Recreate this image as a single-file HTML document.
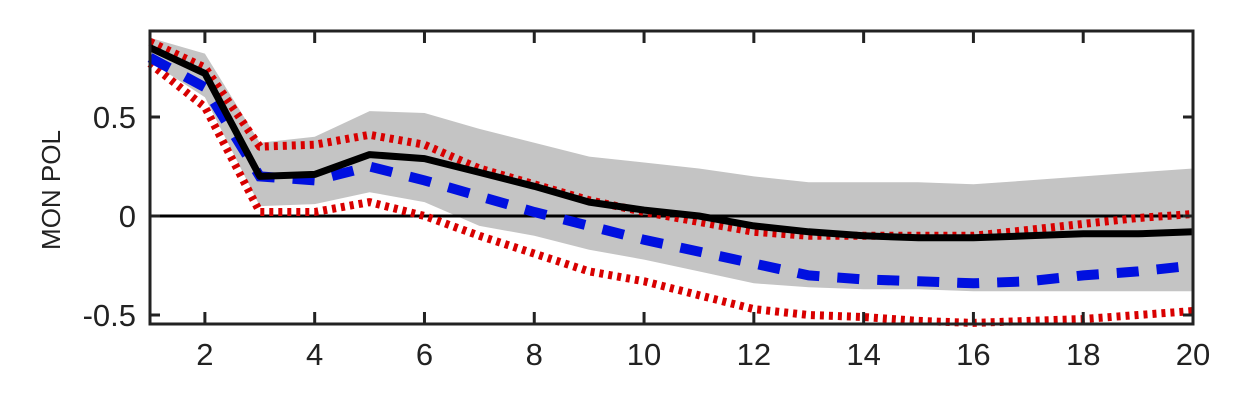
<!DOCTYPE html>
<html><head><meta charset="utf-8"><style>
html,body{margin:0;padding:0;background:#fff;}
svg{display:block;font-family:"Liberation Sans",sans-serif;}
</style></head><body>
<svg id="chart" width="1260" height="403"></svg>
<script>
const periods=[1,2,3,4,5,6,7,8,9,10,11,12,13,14,15,16,17,18,19,20];
const medianVals=[0.85,0.72,0.2,0.21,0.31,0.29,0.22,0.15,0.07,0.03,0.0,-0.05,-0.08,-0.1,-0.11,-0.11,-0.1,-0.09,-0.09,-0.08];
const blueVals=[0.8,0.65,0.2,0.18,0.25,0.18,0.1,0.02,-0.05,-0.12,-0.18,-0.24,-0.3,-0.32,-0.33,-0.34,-0.33,-0.3,-0.28,-0.25];
const redUpper=[0.88,0.75,0.35,0.36,0.41,0.36,0.24,0.16,0.08,0.02,-0.03,-0.08,-0.1,-0.1,-0.1,-0.1,-0.07,-0.04,-0.01,0.01];
const redLower=[0.77,0.55,0.02,0.02,0.07,0.0,-0.1,-0.19,-0.28,-0.33,-0.4,-0.47,-0.5,-0.51,-0.53,-0.54,-0.53,-0.52,-0.5,-0.48];
const bandUpper=[0.9,0.82,0.37,0.4,0.53,0.52,0.44,0.37,0.3,0.27,0.24,0.2,0.17,0.17,0.17,0.16,0.18,0.2,0.22,0.24];
const bandLower=[0.78,0.6,0.05,0.06,0.12,0.07,-0.05,-0.1,-0.17,-0.22,-0.28,-0.34,-0.36,-0.37,-0.37,-0.38,-0.38,-0.38,-0.38,-0.38];
const xTicks=[2,4,6,8,10,12,14,16,18,20];
const yTicks=[-0.5,0,0.5];
const yTickLabels=["-0.5","0","0.5"];

const NS="http://www.w3.org/2000/svg";
const svg=document.getElementById('chart');
const L=150,R=1193,T=31,B=324;
const xs=v=>L+(v-1)*(R-L)/19;
const ys=v=>216-v*198;
function mk(tag,attrs){const e=document.createElementNS(NS,tag);for(const k in attrs)e.setAttribute(k,attrs[k]);svg.appendChild(e);return e;}
function pts(arr){return arr.map((v,i)=>xs(periods[i]).toFixed(1)+','+ys(v).toFixed(1)).join(' ');}

const band=mk('polygon',{points:pts(bandUpper)+' '+bandLower.map((v,i)=>[xs(periods[i]).toFixed(1),ys(v).toFixed(1)].join(',')).reverse().join(' '),fill:'#c4c4c4'});



const zl=mk('line',{x1:L,x2:R,y1:ys(0),y2:ys(0),stroke:'#000','stroke-width':3});



const ru=mk('polyline',{points:pts(redUpper),fill:'none',stroke:'#d80000','stroke-width':8,'stroke-dasharray':'4 5','stroke-linejoin':'round'});


const rl=mk('polyline',{points:pts(redLower),fill:'none',stroke:'#d80000','stroke-width':8,'stroke-dasharray':'4 5','stroke-linejoin':'round'});


const bl=mk('polyline',{points:pts(blueVals),fill:'none',stroke:'#0010e0','stroke-width':10,'stroke-dasharray':'22 18'});


const md=mk('polyline',{points:pts(medianVals),fill:'none',stroke:'#000','stroke-width':7,'stroke-linejoin':'round'});



const frame=mk('rect',{x:L,y:T,width:R-L,height:B-T,fill:'none',stroke:'#222','stroke-width':3});



xTicks.forEach(t=>{
  const a=mk('line',{x1:xs(t),x2:xs(t),y1:B,y2:B-12,stroke:'#222','stroke-width':3});
  
  
  const b=mk('line',{x1:xs(t),x2:xs(t),y1:T,y2:T+12,stroke:'#222','stroke-width':3});
  
  
  const tx=mk('text',{x:xs(t),y:365,'text-anchor':'middle','font-size':31,fill:'#222'});
  tx.textContent=t;
  
  
});
yTicks.forEach((t,i)=>{
  const a=mk('line',{x1:L,x2:L+10,y1:ys(t),y2:ys(t),stroke:'#222','stroke-width':3});
  
  
  const b=mk('line',{x1:R,x2:R-10,y1:ys(t),y2:ys(t),stroke:'#222','stroke-width':3});
  
  
  const tx=mk('text',{x:136,y:ys(t)+11,'text-anchor':'end','font-size':31,fill:'#222'});
  tx.textContent=yTickLabels[i];
  
  
});
const yt=mk('text',{x:60,y:190,'text-anchor':'middle','font-size':26,fill:'#222',transform:'rotate(-90 60 190)'});
yt.textContent='MON POL';


</script>
</body></html>
